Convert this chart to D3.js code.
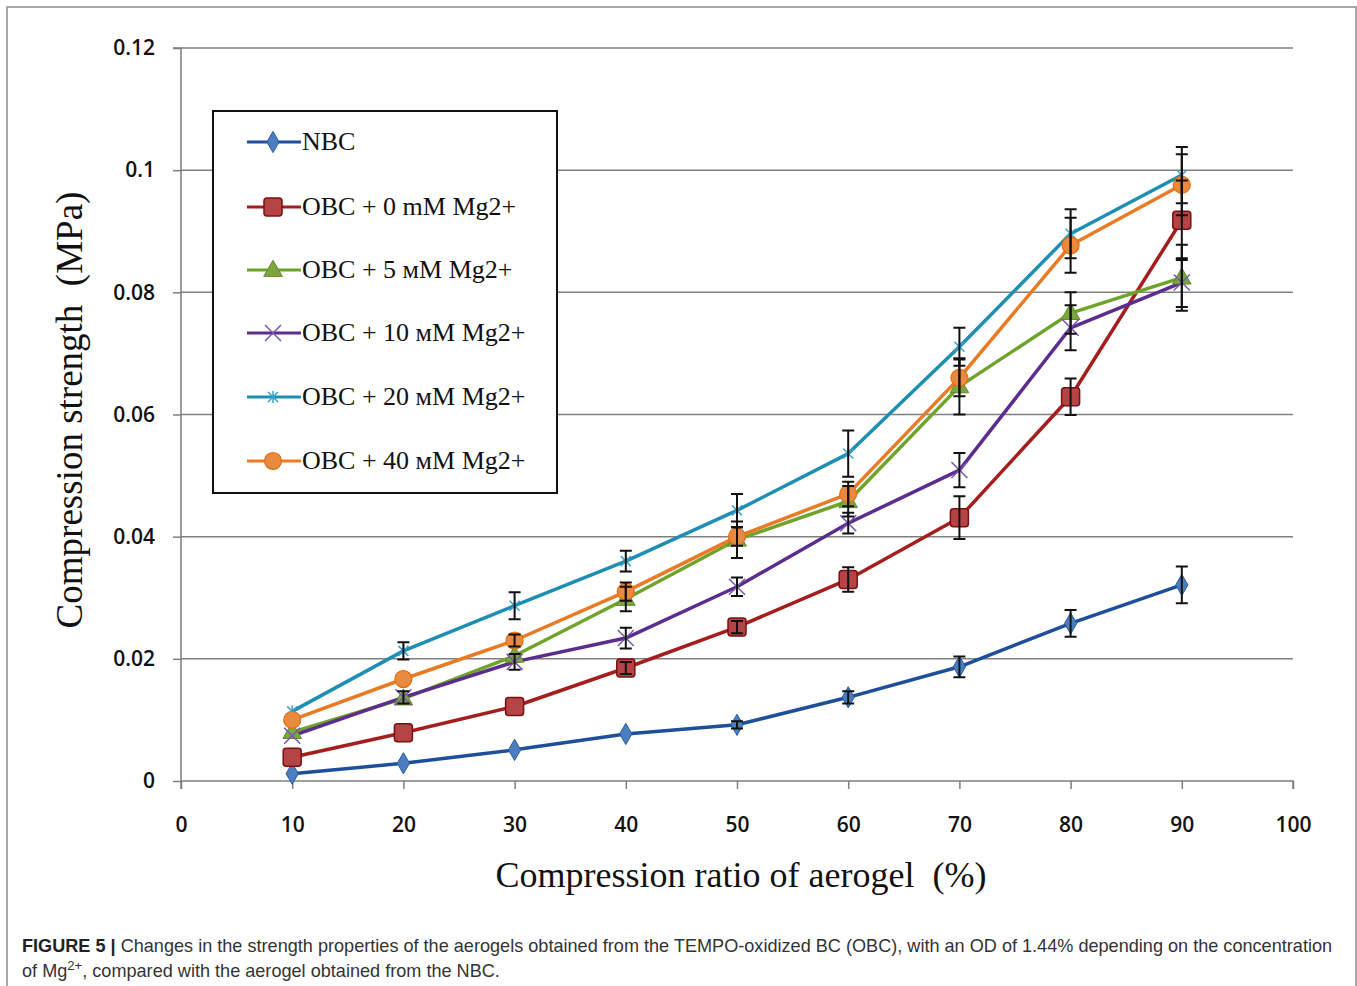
<!DOCTYPE html>
<html><head><meta charset="utf-8">
<script src="https://cdn.jsdelivr.net/npm/d3@7"></script>
<style>body{margin:0;background:#fff}svg{display:block}text{white-space:pre}</style>
</head><body>
<svg id="c" width="1357" height="986"></svg>
<script>
const xValues = [10,20,30,40,50,60,70,80,90];
const xTicks = [0,10,20,30,40,50,60,70,80,90,100];
const yTicks = [0,0.02,0.04,0.06,0.08,0.1,0.12];
const yTickLabels = ["0","0.02","0.04","0.06","0.08","0.1","0.12"];
const seriesNames = ["NBC","OBC + 0 mM Mg2+","OBC + 5 мМ Mg2+","OBC + 10 мМ Mg2+","OBC + 20 мМ Mg2+","OBC + 40 мМ Mg2+"];
const nbc   = [0.0012,0.0029,0.0051,0.0077,0.0092,0.0137,0.0187,0.0258,0.0321];
const obc0  = [0.0039,0.0079,0.0122,0.0185,0.0252,0.0330,0.0431,0.0629,0.0918];
const obc5  = [0.0080,0.0135,0.0205,0.0298,0.0395,0.0458,0.0646,0.0766,0.0824];
const obc10 = [0.0074,0.0137,0.0195,0.0234,0.0318,0.0422,0.0509,0.0742,0.0816];
const obc20 = [0.0114,0.0213,0.0287,0.0360,0.0443,0.0536,0.0711,0.0896,0.0992];
const obc40 = [0.0100,0.0167,0.0230,0.0310,0.0400,0.0470,0.0660,0.0877,0.0976];
const errNbc   = [0,0,0,0,0.0006,0.0010,0.0017,0.0022,0.0030];
const errObc0  = [0,0,0,0.0010,0.0010,0.0020,0.0035,0.0030,0.0065];
const errObc5  = [0,0,0,0.0020,0.0030,0.0025,0.0046,0.0034,0.0054];
const errObc10 = [0,0.0010,0.0013,0.0017,0.0015,0.0017,0.0028,0.0037,0.0040];
const errObc20 = [0,0.0014,0.0022,0.0017,0.0027,0.0038,0.0031,0.0040,0.0046];
const errObc40 = [0,0,0.0010,0.0015,0.0015,0.0020,0.0030,0.0045,0.0050];
const xTitle = "Compression ratio of aerogel  (%)";
const yTitle = "Compression strength  (MPa)";

const series = [
  {name:seriesNames[0], v:nbc,   e:errNbc,   line:"#1f4f9c", fill:"#4a7ebf", stroke:"#2a5a9e", sym:"diamond"},
  {name:seriesNames[1], v:obc0,  e:errObc0,  line:"#a51d1d", fill:"#b54446", stroke:"#7a1010", sym:"square"},
  {name:seriesNames[2], v:obc5,  e:errObc5,  line:"#6fa32a", fill:"#7ea640", stroke:"#5e8a2a", sym:"triangle"},
  {name:seriesNames[3], v:obc10, e:errObc10, line:"#5b2d8e", fill:"none",    stroke:"#7a55b0", sym:"x"},
  {name:seriesNames[4], v:obc20, e:errObc20, line:"#1e8fb3", fill:"none",    stroke:"#3aa3c8", sym:"star"},
  {name:seriesNames[5], v:obc40, e:errObc40, line:"#ea7a24", fill:"#e98a3e", stroke:"#e06d15", sym:"circle"}
];

const svg = d3.select("#c");
const x = d3.scaleLinear().domain([0,100]).range([181,1293]);
const y = d3.scaleLinear().domain([0,0.12]).range([781,48]);

svg.append("rect").attr("x",7).attr("y",7).attr("width",1349).attr("height",1000)
  .attr("fill","none").attr("stroke","#8a8a8a").attr("stroke-width",1.5);

svg.append("g").selectAll("line").data(yTicks.slice(1)).join("line")
  .attr("x1",x(0)).attr("x2",x(100)).attr("y1",d=>y(d)).attr("y2",d=>y(d))
  .attr("stroke","#7f7f7f").attr("stroke-width",1.5);

const tickFont = g => g.selectAll(".tick text").attr("font-family","'Open Sans',sans-serif")
  .attr("font-size",21).attr("font-weight",600).attr("fill","#111");

const yAxis = d3.axisLeft(y).tickValues(yTicks).tickFormat((d,i)=>yTickLabels[i]).tickSize(8).tickPadding(18);
const gy = svg.append("g").attr("transform",`translate(${x(0)},0)`).call(yAxis);
gy.select(".domain").attr("stroke","#7f7f7f").attr("stroke-width",1.5).attr("d",`M-8,${y(0.12)}H0V${y(0)+8}`);
gy.selectAll(".tick line").attr("stroke","#7f7f7f").attr("stroke-width",1.5);
tickFont(gy);

const xAxis = d3.axisBottom(x).tickValues(xTicks).tickFormat(d3.format("d")).tickSize(8).tickPadding(28);
const gx = svg.append("g").attr("transform",`translate(0,${y(0)})`).call(xAxis);
gx.select(".domain").attr("stroke","#7f7f7f").attr("stroke-width",1.5).attr("d",`M${x(0)},0H${x(100)}V8`);
gx.selectAll(".tick line").attr("stroke","#7f7f7f").attr("stroke-width",1.5);
tickFont(gx);

svg.append("text").attr("x",741).attr("y",887).attr("text-anchor","middle")
  .attr("font-family","'Liberation Serif','Times New Roman',serif").attr("font-size",36).attr("fill","#111").text(xTitle);
svg.append("text").attr("transform","translate(82,410) rotate(-90)").attr("text-anchor","middle")
  .attr("font-family","'Liberation Serif','Times New Roman',serif").attr("font-size",37).attr("fill","#111").text(yTitle);

function drawMarker(g, s, cx, cy, scale){
  scale = scale||1;
  if(s.sym==="diamond"){
    g.append("path").attr("d",d3.symbol(d3.symbolDiamond, 130*scale)()).attr("transform",`translate(${cx},${cy})`)
      .attr("fill",s.fill).attr("stroke",s.stroke).attr("stroke-width",1);
  } else if(s.sym==="square"){
    const h=9*scale;
    g.append("rect").attr("x",cx-h).attr("y",cy-h).attr("width",2*h).attr("height",2*h).attr("rx",3)
      .attr("fill",s.fill).attr("stroke",s.stroke).attr("stroke-width",1.5);
  } else if(s.sym==="triangle"){
    g.append("path").attr("d",d3.symbol(d3.symbolTriangle, 150*scale)()).attr("transform",`translate(${cx},${cy+1})`)
      .attr("fill",s.fill).attr("stroke",s.stroke).attr("stroke-width",1);
  } else if(s.sym==="x"){
    const h=8*scale;
    g.append("path").attr("d",`M${cx-h},${cy-h}L${cx+h},${cy+h}M${cx-h},${cy+h}L${cx+h},${cy-h}`)
      .attr("stroke",s.stroke).attr("stroke-width",1.5).attr("fill","none");
  } else if(s.sym==="star"){
    const h=5*scale;
    g.append("path").attr("d",`M${cx-h},${cy-h}L${cx+h},${cy+h}M${cx-h},${cy+h}L${cx+h},${cy-h}M${cx},${cy-h-1}V${cy+h+1}`)
      .attr("stroke",s.stroke).attr("stroke-width",1.5).attr("fill","none");
  } else if(s.sym==="circle"){
    g.append("circle").attr("cx",cx).attr("cy",cy).attr("r",8.5*scale)
      .attr("fill",s.fill).attr("stroke",s.stroke).attr("stroke-width",1.2);
  }
}

const line = d3.line().x((d,i)=>x(xValues[i])).y(d=>y(d));
const plot = svg.append("g");
series.forEach(s=>{
  plot.append("path").datum(s.v).attr("d",line).attr("fill","none")
    .attr("stroke",s.line).attr("stroke-width",3.5).attr("stroke-linejoin","round");
});
series.forEach(s=>{
  const g = plot.append("g");
  s.v.forEach((v,i)=>drawMarker(g,s,x(xValues[i]),y(v)));
});
const eg = svg.append("g").attr("stroke","#111").attr("stroke-width",2).attr("fill","none");
series.forEach(s=>{
  s.v.forEach((v,i)=>{
    const e=s.e[i]; if(!e) return;
    const cx=x(xValues[i]), y1=y(v+e), y2=y(v-e);
    eg.append("path").attr("d",`M${cx},${y1}V${y2}M${cx-6},${y1}H${cx+6}M${cx-6},${y2}H${cx+6}`);
  });
});

const lg = svg.append("g");
lg.append("rect").attr("x",213).attr("y",111).attr("width",344).attr("height",382)
  .attr("fill","#fff").attr("stroke","#111").attr("stroke-width",2);
const legendY = [142,207,270,333,397,461];
series.forEach((s,i)=>{
  const ly=legendY[i];
  lg.append("line").attr("x1",247).attr("x2",301).attr("y1",ly).attr("y2",ly)
    .attr("stroke",s.line).attr("stroke-width",3);
  drawMarker(lg,s,273,ly,1);
  lg.append("text").attr("x",302).attr("y",ly+8).attr("font-family","'Liberation Serif','Times New Roman',serif")
    .attr("font-size",26).attr("fill","#111").text(s.name);
});

// caption (condensed to the reference's line width)
const cap = svg.append("g").attr("font-family","'Liberation Sans',Arial,sans-serif").attr("fill","#333");
function fitLine(t, left, width){
  const w = t.node().getComputedTextLength();
  const k = width / w;
  t.attr("transform",`translate(${left},0) scale(${k},1)`).attr("x",0);
  return k;
}
const t1 = cap.append("text").attr("y",952).attr("font-size",18);
t1.append("tspan").attr("font-weight","bold").attr("fill","#222").text("FIGURE 5 | ");
t1.append("tspan").text("Changes in the strength properties of the aerogels obtained from the TEMPO-oxidized BC (OBC), with an OD of 1.44% depending on the concentration");
const k = fitLine(t1, 22, 1311);
const t2 = cap.append("text").attr("y",977).attr("font-size",18);
t2.append("tspan").text("of Mg");
t2.append("tspan").attr("dy",-7).attr("font-size",13).text("2+");
t2.append("tspan").attr("dy",7).text(", compared with the aerogel obtained from the NBC.");
t2.attr("transform",`translate(22,0) scale(${k},1)`).attr("x",0);
</script>
</body></html>
